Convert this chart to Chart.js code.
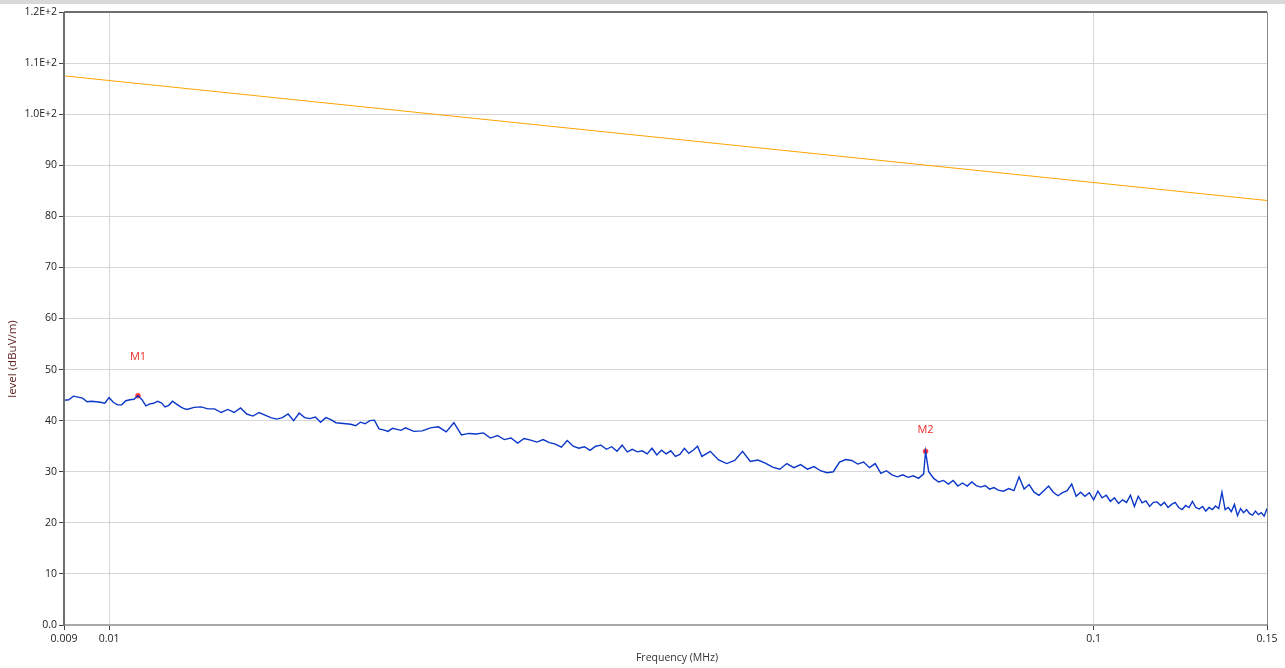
<!DOCTYPE html>
<html>
<head>
<meta charset="utf-8">
<script src="https://cdn.jsdelivr.net/npm/chart.js@4.4.1/dist/chart.umd.min.js"></script>
<style>
  html, body { margin: 0; padding: 0; background: #fff; }
  #wrap { width: 1285px; height: 668px; position: relative; }
</style>
</head>
<body>
<div id="wrap"><canvas id="emiChart"></canvas></div>
<script>
// measured trace, frequency in kHz
const freqKHz = [
  9.0,9.1,9.2,9.3,9.4,9.5,9.6,9.7,9.8,9.9,10.0,10.1,10.2,10.3,10.4,10.5,10.6,10.7,10.8,10.9,11.0,11.1,11.2,11.3,11.4,11.5,11.6,11.7,11.8,11.9,12.0,
  12.2,12.4,12.6,12.8,13.0,13.2,13.4,13.6,13.8,14.0,14.2,14.4,14.6,14.8,15.0,15.2,15.4,15.6,15.8,16.0,16.2,16.4,16.6,16.8,17.0,17.2,17.4,17.6,17.8,18.0,18.2,18.4,18.6,18.8,19.0,19.2,19.4,19.6,19.8,20.0,
  20.4,20.8,21.2,21.6,22.0,22.4,22.8,23.2,23.6,24.0,24.4,24.8,25.2,25.6,26.0,26.4,26.8,27.2,27.6,28.0,28.4,28.8,29.2,29.6,30.0,30.4,30.8,31.2,31.6,32.0,32.4,32.8,33.2,33.6,34.0,34.4,34.8,35.2,35.6,36.0,36.4,36.8,37.2,37.6,38.0,38.4,38.8,39.2,39.6,40.0,
  40.8,41.6,42.4,43.2,44.0,44.8,45.6,46.4,47.2,48.0,48.8,49.6,50.4,51.2,52.0,52.8,53.6,54.4,55.2,56.0,56.8,57.6,58.4,59.2,60.0,60.8,61.6,62.4,63.2,64.0,64.8,65.6,66.4,67.2,67.5,68.0,68.8,69.6,70.4,71.2,72.0,72.8,73.6,74.4,75.2,76.0,76.8,77.6,78.4,79.2,80.0,
  81,82,83,84,85,86,87,88,89,90,91,92,93,94,95,96,97,98,99,100,101,102,103,104,105,106,107,108,109,110,111,112,113,114,115,116,117,118,119,120,121,122,123,124,125,126,127,128,129,130,131,132,133,134,135,136,137,138,139,140,141,142,143,144,145,146,147,148,149,150
];
const levels = [
  44.0,44.1,44.8,44.6,44.4,43.7,43.8,43.7,43.6,43.4,44.5,43.6,43.1,43.1,43.9,44.1,44.2,44.9,44.1,42.9,43.3,43.4,43.8,43.5,42.7,43.0,43.8,43.3,42.8,42.4,42.2,
  42.6,42.7,42.3,42.3,41.6,42.2,41.6,42.5,41.3,40.9,41.6,41.1,40.6,40.3,40.6,41.3,40.0,41.5,40.6,40.4,40.7,39.7,40.6,40.2,39.6,39.5,39.4,39.3,39.0,39.7,39.4,40.0,40.1,38.4,38.2,37.9,38.5,38.3,38.1,38.6,
  37.9,38.0,38.6,38.8,37.8,39.6,37.2,37.5,37.4,37.6,36.6,37.1,36.3,36.6,35.6,36.5,36.2,35.8,36.3,35.7,35.4,34.8,36.1,35.0,34.6,34.9,34.2,35.0,35.2,34.4,34.9,34.0,35.2,33.9,34.4,33.9,34.1,33.5,34.6,33.3,34.2,33.5,34.1,33.0,33.4,34.6,33.6,34.2,35.0,33.0,
  34.0,32.3,31.6,32.2,34.0,32.0,32.3,31.7,30.9,30.5,31.6,30.8,31.4,30.5,31.0,30.2,29.8,30.0,31.9,32.4,32.2,31.5,31.9,30.8,31.6,29.7,30.2,29.4,29.0,29.4,28.9,29.2,28.7,29.6,34.0,30.0,28.7,28.0,28.3,27.6,28.3,27.2,27.8,27.2,28.0,27.3,27.0,27.3,26.6,26.9,26.4,
  26.2,26.7,26.3,29.0,26.6,27.5,26.0,25.4,26.3,27.2,26.0,25.3,25.9,26.3,27.6,25.2,26.0,25.2,25.9,24.5,26.2,24.9,25.4,24.2,24.9,23.8,24.5,24.0,25.4,23.2,25.2,23.9,24.3,23.2,24.0,24.1,23.4,24.0,23.0,23.6,24.0,23.0,22.6,23.4,23.0,24.2,23.0,22.7,23.2,22.3,23.0,22.6,23.3,22.8,26.0,22.6,23.0,22.2,23.6,21.4,22.8,22.0,22.6,21.8,21.5,22.3,21.6,22.0,21.3,22.8
];

// limit line
const limitKHz = [9, 150];
const limitLevels = [107.5, 83.1];

// markers
const markerNames = ["M1", "M2"];
const markerKHz = [10.7, 67.5];
const markerLevels = [44.9, 34.0];

// axis ticks
const xTickValues = [0.009, 0.01, 0.1, 0.15];
const xTickLabels = ["0.009", "0.01", "0.1", "0.15"];
const yTickValues = [0, 10, 20, 30, 40, 50, 60, 70, 80, 90, 100, 110, 120];
const yTickLabels = ["0.0", "10", "20", "30", "40", "50", "60", "70", "80", "90", "1.0E+2", "1.1E+2", "1.2E+2"];

const toPoints = (fs, vs) => fs.map((f, i) => ({ x: f / 1000, y: vs[i] }));

Chart.defaults.font.family = "'Open Sans', 'Liberation Sans', sans-serif";
Chart.defaults.font.size = 10.5;

const labelLift = [39, 21]; // px above marker dot

const decor = {
  id: "decor",
  beforeDraw(chart) {
    const c = chart.ctx;
    c.save();
    c.fillStyle = "#fff";
    c.fillRect(0, 0, chart.width, chart.height);
    c.fillStyle = "#d9d9d9";
    c.fillRect(0, 0, chart.width, 4);
    c.restore();
  },
  afterDraw(chart) {
    const c = chart.ctx;
    const a = chart.chartArea;
    c.save();
    // frame
    c.strokeStyle = "#a9a9a9";
    c.lineWidth = 2;
    c.beginPath(); c.moveTo(a.left, a.bottom); c.lineTo(a.right, a.bottom); c.stroke();
    c.strokeStyle = "#8a8a8a";
    c.lineWidth = 1;
    c.beginPath(); c.moveTo(a.right + 0.5, a.top); c.lineTo(a.right + 0.5, a.bottom); c.stroke();
    c.strokeStyle = "#6f6f6f";
    c.lineWidth = 2;
    c.beginPath(); c.moveTo(a.left, a.top); c.lineTo(a.right, a.top); c.stroke();
    c.beginPath(); c.moveTo(a.left, a.top); c.lineTo(a.left, a.bottom + 1); c.stroke();

    // marker labels
    c.fillStyle = "#ee2b24";
    c.font = "11px 'Open Sans', sans-serif";
    c.textAlign = "center";
    c.textBaseline = "middle";
    markerNames.forEach((name, i) => {
      const px = chart.scales.x.getPixelForValue(markerKHz[i] / 1000);
      const py = chart.scales.y.getPixelForValue(markerLevels[i]);
      c.fillText(name, px, py - labelLift[i]);
    });

    // axis titles
    c.fillStyle = "#333";
    c.font = "10.5px 'Open Sans', sans-serif";
    c.fillText("Frequency (MHz)", 677, 658);
    c.translate(13, 359);
    c.rotate(-Math.PI / 2);
    c.fillStyle = "#5e2323";
    c.font = "11.5px 'Open Sans', sans-serif";
    c.fillText("level (dBuV/m)", 0, 0);
    c.restore();
  }
};

const ctx = document.getElementById("emiChart").getContext("2d");

new Chart(ctx, {
  type: "line",
  data: {
    datasets: [
      {
        label: "Limit",
        data: toPoints(limitKHz, limitLevels),
        borderColor: "#ffa400",
        borderWidth: 1,
        pointRadius: 0
      },
      {
        label: "Level",
        data: toPoints(freqKHz, levels),
        borderColor: "#0b37c9",
        borderWidth: 1.4,
        pointRadius: 0
      },
      {
        label: "Markers",
        data: toPoints(markerKHz, markerLevels),
        showLine: false,
        pointRadius: 2.5,
        pointBackgroundColor: "#ff2a2a",
        pointBorderColor: "rgba(255,90,90,0.6)",
        pointBorderWidth: 1
      }
    ]
  },
  options: {
    responsive: true,
    maintainAspectRatio: false,
    animation: false,
    layout: { padding: { top: 12, right: 18, left: 0, bottom: 0 } },
    plugins: { legend: { display: false }, tooltip: { enabled: false } },
    scales: {
      x: {
        type: "logarithmic",
        min: 0.009,
        max: 0.15,
        afterBuildTicks: s => { s.ticks = xTickValues.map(v => ({ value: v })); },
        afterFit: s => { s.height = 43; },
        ticks: {
          autoSkip: false,
          maxRotation: 0,
          padding: 3,
          color: "#222",
          callback: (v, i) => xTickLabels[i]
        },
        grid: {
          color: c => (c.tick && (c.tick.value === 0.01 || c.tick.value === 0.1)) ? "#d6d6d6" : "rgba(0,0,0,0)",
          tickColor: "#444",
          tickLength: 5
        },
        border: { display: false }
      },
      y: {
        min: 0,
        max: 120,
        afterBuildTicks: s => { s.ticks = yTickValues.map(v => ({ value: v })); },
        afterFit: s => { s.width = 64; },
        ticks: {
          padding: 2,
          color: "#222",
          callback: (v, i) => yTickLabels[i]
        },
        grid: { color: "#d6d6d6", tickColor: "#444", tickLength: 5 },
        border: { display: false }
      }
    }
  },
  plugins: [decor]
});
</script>
</body>
</html>
